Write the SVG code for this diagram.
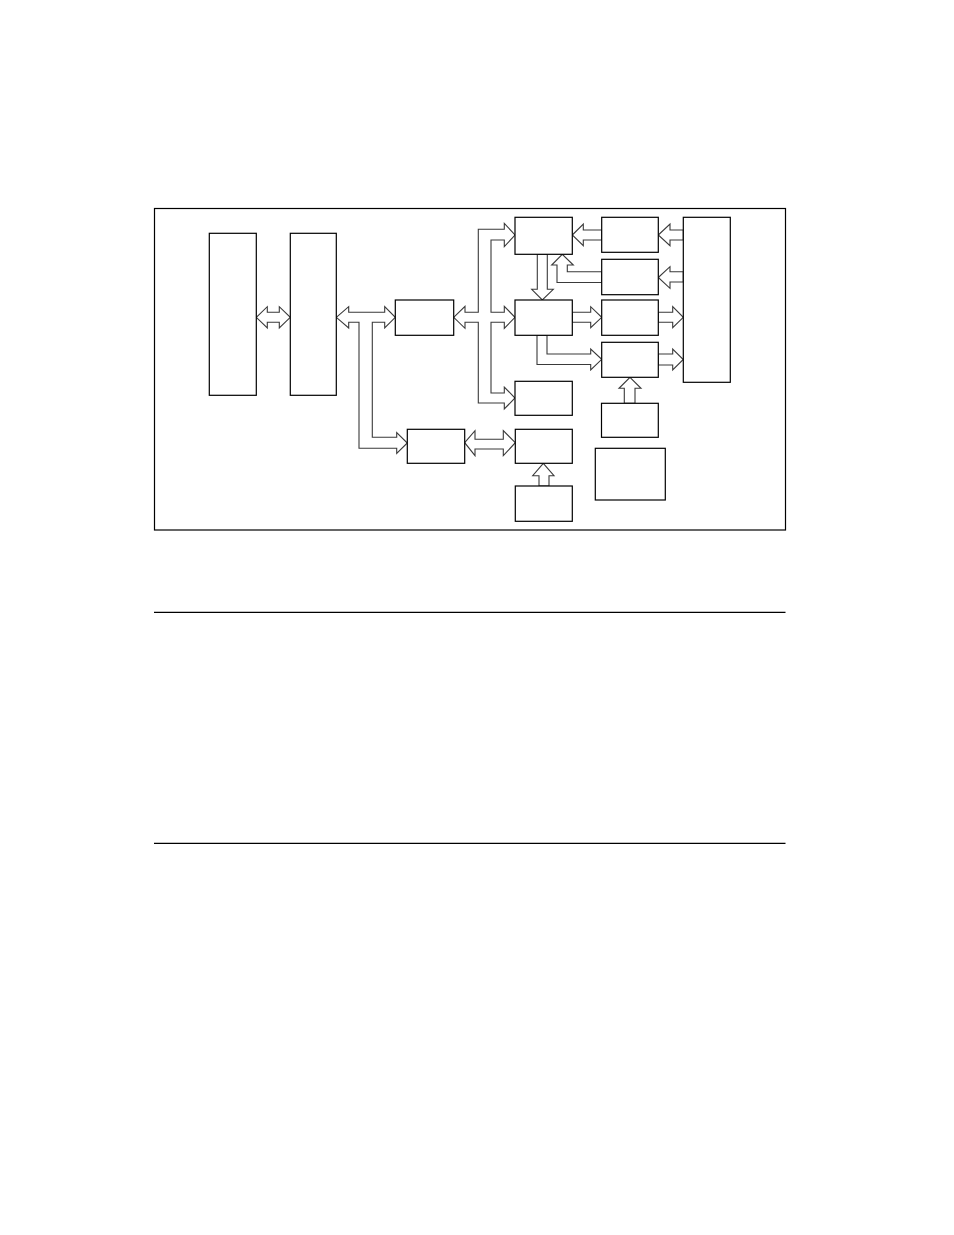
<svg xmlns="http://www.w3.org/2000/svg" width="954" height="1235" viewBox="0 0 954 1235">
<style>
.box{fill:#fff;stroke:#000;stroke-width:1.2}
.arr{fill:#fff;stroke:#3a3a3a;stroke-width:1.1;stroke-linejoin:miter}
.rule{stroke:#000;stroke-width:1.2}
</style>
<rect width="954" height="1235" fill="#fff"/>
<rect id="frame" x="154.5" y="208.5" width="631" height="321.5" fill="none" stroke="#000" stroke-width="1.2"/>
<g id="connectors">
<polygon class="arr" points="256.3,317.3 267.3,306.7 267.3,312.3 279.3,312.3 279.3,306.7 290.3,317.3 279.3,328 279.3,322.3 267.3,322.3 267.3,328"/>
<polygon class="arr" points="336.3,317.3 348.7,306.7 348.7,312.3 384.7,312.3 384.7,306.7 395.3,317.3 384.7,328 384.7,322.3 372.3,322.3 372.3,437.3 396.7,437.3 396.7,432.5 407.3,443 396.7,453.5 396.7,448.3 359,448.3 359,322.3 348.7,322.3 348.7,328"/>
<polygon class="arr" points="453.7,317.3 465,306.3 465,312.3 478.3,312.3 478.3,229.3 504.3,229.3 504.3,223.3 515,235 504.3,246.7 504.3,240 491,240 491,312.3 504.3,312.3 504.3,306.3 515,317.3 504.3,328.3 504.3,322.3 491,322.3 491,393 504.3,393 504.3,387 515,398 504.3,409 504.3,403 478.3,403 478.3,322.3 465,322.3 465,328.3"/>
<polygon class="arr" points="572.3,235 583.3,224 583.3,230 601.7,230 601.7,240 583.3,240 583.3,245.7"/>
<polygon class="arr" points="658.3,235 670,224 670,230 683.3,230 683.3,240 670,240 670,245.7"/>
<polygon class="arr" points="658.3,277.5 670,266.7 670,271.7 683.3,271.7 683.3,282 670,282 670,288.3"/>
<polygon class="arr" points="562.3,254.3 573.3,265 567.3,265 567.3,271.7 601.7,271.7 601.7,282.5 557,282.5 557,265 551.7,265"/>
<polygon class="arr" points="537.3,254.3 547.3,254.3 547.3,289.3 553.3,289.3 542.3,300 531.7,289.3 537.3,289.3"/>
<polygon class="arr" points="572.3,312.3 590.7,312.3 590.7,306.7 601.7,317.3 590.7,327.7 590.7,322.3 572.3,322.3"/>
<polygon class="arr" points="658.3,312.3 672.7,312.3 672.7,306.7 683.3,317.3 672.7,327.7 672.7,322.3 658.3,322.3"/>
<polygon class="arr" points="537,335.3 547,335.3 547,354 590.7,354 590.7,349 601.7,359.3 590.7,370 590.7,364.5 537,364.5"/>
<polygon class="arr" points="658.3,354 672.7,354 672.7,349 683.3,359.5 672.7,370 672.7,365 658.3,365"/>
<polygon class="arr" points="630,377.3 641,388.3 635,388.3 635,403.3 624.3,403.3 624.3,388.3 619,388.3"/>
<polygon class="arr" points="464.7,442.7 475,430.7 475,439.3 503.3,439.3 503.3,430.7 515.3,442.7 503.3,455.7 503.3,449 475,449 475,455.7"/>
<polygon class="arr" points="543.3,463.3 554,475.7 549,475.7 549,486 539,486 539,475.7 532.7,475.7"/>
</g>
<g id="nodeA"><rect class="box" x="209.3" y="233.3" width="47" height="162"/></g>
<g id="nodeB"><rect class="box" x="290.3" y="233.3" width="46" height="162"/></g>
<g id="nodeC"><rect class="box" x="395.3" y="300" width="58.4" height="35.3"/></g>
<g id="nodeD"><rect class="box" x="407.3" y="429.3" width="57.4" height="34"/></g>
<g id="nodeE"><rect class="box" x="515" y="217.3" width="57.3" height="37"/></g>
<g id="nodeF"><rect class="box" x="601.7" y="217.3" width="56.6" height="35"/></g>
<g id="nodeG"><rect class="box" x="601.7" y="259.3" width="56.6" height="35.4"/></g>
<g id="nodeH"><rect class="box" x="515" y="300" width="57.3" height="35.3"/></g>
<g id="nodeI"><rect class="box" x="601.7" y="300" width="56.6" height="35.3"/></g>
<g id="nodeJ"><rect class="box" x="601.7" y="342.3" width="56.6" height="35"/></g>
<g id="nodeK"><rect class="box" x="683.3" y="217.3" width="47" height="165"/></g>
<g id="nodeL"><rect class="box" x="515" y="381.3" width="57.3" height="34"/></g>
<g id="nodeM"><rect class="box" x="601.5" y="403.3" width="56.8" height="34"/></g>
<g id="nodeN"><rect class="box" x="515.3" y="429.3" width="57" height="34"/></g>
<g id="nodeO"><rect class="box" x="515.3" y="486" width="57" height="35.3"/></g>
<g id="nodeP"><rect class="box" x="595.3" y="448.3" width="70" height="51.7"/></g>
<line class="rule" x1="154" y1="612.3" x2="785.5" y2="612.3"/>
<line class="rule" x1="154" y1="843.3" x2="785.5" y2="843.3"/>
</svg>
